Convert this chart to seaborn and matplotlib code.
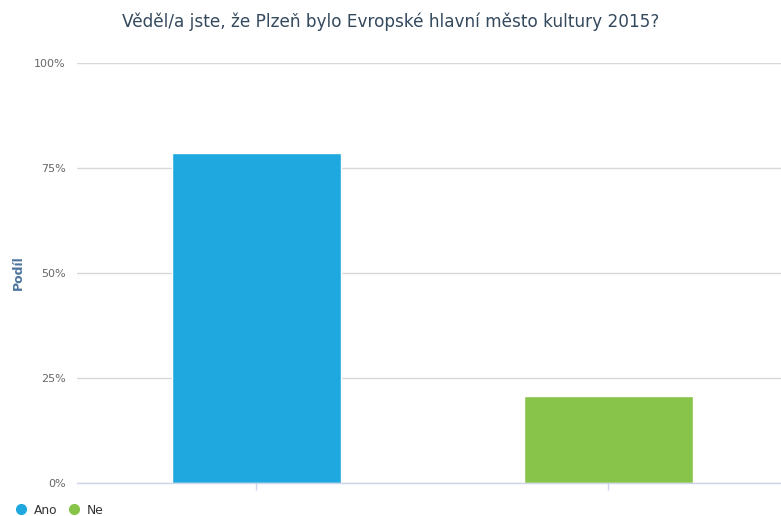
import matplotlib
matplotlib.use("Agg")
import matplotlib.pyplot as plt
import seaborn as sns
import pandas as pd
from matplotlib.lines import Line2D
from matplotlib.ticker import FuncFormatter

categories = ["Ano", "Ne"]
values = [78.6, 20.7]
colors = ["#1fa8e0", "#88c449"]
yticks = [0, 25, 50, 75, 100]

sns.set_theme(style="white")
plt.rcParams["font.family"] = ["DejaVu Sans"]

df = pd.DataFrame({"kategorie": categories, "podil": values})

fig = plt.figure(figsize=(7.81, 5.16), dpi=100)
ax = fig.add_axes([77 / 781, 33 / 516, 704 / 781, 420 / 516])

sns.barplot(data=df, x="kategorie", y="podil", hue="kategorie",
            palette=colors, width=0.48, ax=ax, legend=False,
            saturation=1, zorder=3)

ax.set_ylim(0, 100)
ax.set_xlim(-0.509, 1.491)
ax.set_yticks(yticks)
ax.yaxis.set_major_formatter(FuncFormatter(lambda v, p: f"{v:.0f}%"))
ax.grid(axis="y", color="#d8d8d8", linewidth=1, zorder=0)
ax.set_axisbelow(True)

for s in ["top", "right", "left"]:
    ax.spines[s].set_visible(False)
ax.spines["bottom"].set_color("#ccd6eb")
ax.spines["bottom"].set_linewidth(1)
ax.spines["bottom"].set_zorder(4)

ax.tick_params(axis="y", left=False, length=0, labelsize=8, labelcolor="#666666", pad=8)
ax.tick_params(axis="x", bottom=True, direction="out", length=5, width=1,
               color="#ccd6eb", labelbottom=False)
ax.set_xlabel("")
ax.set_ylabel("Podíl", fontsize=9, fontweight="bold", color="#4d759e", labelpad=6.5)

fig.text(0.5, 1 - 22 / 516, "Věděl/a jste, že Plzeň bylo Evropské hlavní město kultury 2015?",
         ha="center", va="center", fontsize=12.2, color="#34495e")

handles = [Line2D([0], [0], marker="o", linestyle="", markersize=7,
                  markerfacecolor=c, markeredgecolor=c, label=l)
           for c, l in zip(colors, categories)]
fig.legend(handles=handles, loc="lower left", bbox_to_anchor=(0.0, -0.018),
           ncol=2, frameon=False, fontsize=8.8, handletextpad=0.1,
           columnspacing=0.3, labelcolor="#333333", borderaxespad=0.3)

fig.savefig("out.png", dpi=100)
